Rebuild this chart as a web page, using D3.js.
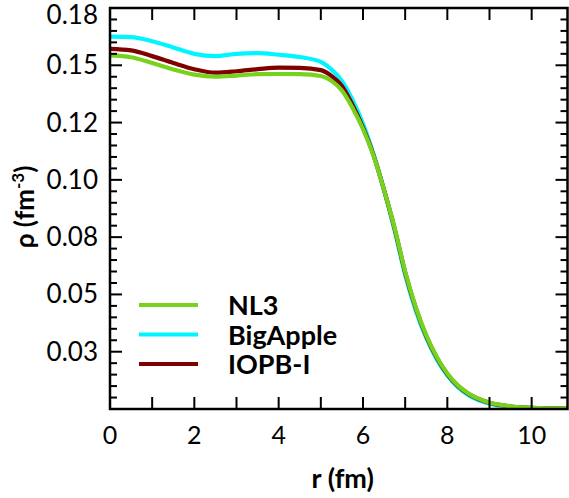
<!DOCTYPE html>
<html>
<head>
<meta charset="utf-8">
<script src="https://cdn.jsdelivr.net/npm/d3@7"></script>
<style>
  body { margin: 0; background: #fff; }
  svg { display: block; font-family: Lato, sans-serif; }
</style>
</head>
<body>
<div id="chart"></div>
<script>
// radius grid (fm)
const r = [0, 0.5, 1, 1.5, 2, 2.5, 3, 3.5, 4, 4.5, 5, 5.25, 5.5, 5.75, 6, 6.25, 6.5, 6.75, 7, 7.25, 7.5, 7.75, 8, 8.25, 8.5, 9, 9.5, 10, 10.85]

const nl3 = [0.1543, 0.1535, 0.1510, 0.1482, 0.1459, 0.1450, 0.1455, 0.1461, 0.1462, 0.1461, 0.1453, 0.1432, 0.1390, 0.1315,
             0.1222, 0.1105, 0.0955, 0.0790, 0.0600, 0.0445, 0.0322, 0.0227, 0.0155, 0.0103, 0.0068, 0.0028, 0.0012, 0.0005, 0.0002]
const bigapple = [0.1625, 0.1623, 0.1605, 0.1578, 0.1550, 0.1540, 0.1550, 0.1553, 0.1546, 0.1536, 0.1515, 0.1482, 0.1432, 0.1350,
                  0.1245, 0.1112, 0.0955, 0.0778, 0.0585, 0.0430, 0.0310, 0.0216, 0.0146, 0.0095, 0.0060, 0.0023, 0.0009, 0.0004, 0.0001]
const iopb = [0.1572, 0.1565, 0.1540, 0.1510, 0.1483, 0.1468, 0.1474, 0.1483, 0.1490, 0.1489, 0.1479, 0.1454, 0.1410, 0.1328,
              0.1228, 0.1108, 0.0955, 0.0787, 0.0596, 0.0441, 0.0318, 0.0224, 0.0152, 0.0101, 0.0066, 0.0027, 0.0011, 0.0005, 0.0002]

const xTicks = [0, 2, 4, 6, 8, 10]
const yTicks = [0.025, 0.05, 0.075, 0.1, 0.125, 0.15, 0.175]
const yTickLabels = ["0.03", "0.05", "0.08", "0.10", "0.12", "0.15", "0.18"]

const series = [
    {name: "BigApple", values: bigapple, color: "#00f5ff"},
    {name: "IOPB-I", values: iopb, color: "#800000"},
    {name: "NL3", values: nl3, color: "#76d21d"}
]
const legendOrder = ["NL3", "BigApple", "IOPB-I"]

let W = 569, H = 498
let margin = {top: 8, right: 1.5, bottom: 89, left: 110}
let width = W - margin.left - margin.right,
    height = H - margin.top - margin.bottom

let svg = d3.select("#chart").append("svg")
    .attr("width", W).attr("height", H)

let g = svg.append("g")
    .attr("transform", "translate(" + margin.left + "," + margin.top + ")")

let x = d3.scaleLinear().domain([0, 10.85]).range([0, width])
let y = d3.scaleLinear().domain([0, 0.175]).range([height, 0])

// clip for curves
svg.append("defs").append("clipPath").attr("id", "clip")
    .append("rect").attr("width", width).attr("height", height)

let line = d3.line()
    .x((d, i) => x(r[i]))
    .y(d => y(d))
    .curve(d3.curveMonotoneX)

g.append("g").attr("clip-path", "url(#clip)")
    .selectAll("path")
    .data(series)
    .enter()
    .append("path")
        .attr("d", d => line(d.values))
        .attr("fill", "none")
        .attr("stroke", d => d.color)
        .attr("stroke-width", 4.2)

// ticks: inward, on all four sides
let yMinor = d3.range(0.005, 0.1751, 0.005)
let xMinor = d3.range(1, 11, 1)

let tickStyle = sel => sel.attr("stroke", "#000").attr("stroke-width", 2)

g.selectAll(".xt-b").data(xMinor).enter().append("line")
    .attr("x1", d => x(d)).attr("x2", d => x(d))
    .attr("y1", height).attr("y2", height - 12).call(tickStyle)
g.selectAll(".xt-t").data(xMinor).enter().append("line")
    .attr("x1", d => x(d)).attr("x2", d => x(d))
    .attr("y1", 0).attr("y2", 12).call(tickStyle)

let isMajor = d => Math.abs(d / 0.025 - Math.round(d / 0.025)) < 1e-6
g.selectAll(".yt-l").data(yMinor).enter().append("line")
    .attr("x1", 0).attr("x2", d => isMajor(d) ? 12 : 7)
    .attr("y1", d => y(d)).attr("y2", d => y(d)).call(tickStyle)
g.selectAll(".yt-r").data(yMinor).enter().append("line")
    .attr("x1", width).attr("x2", d => width - (isMajor(d) ? 12 : 7))
    .attr("y1", d => y(d)).attr("y2", d => y(d)).call(tickStyle)

// frame
g.append("rect")
    .attr("width", width).attr("height", height)
    .attr("fill", "none").attr("stroke", "#000").attr("stroke-width", 2.5)

// tick labels
g.selectAll(".xl").data(xTicks).enter().append("text")
    .attr("x", d => x(d)).attr("y", height + 35)
    .attr("text-anchor", "middle")
    .attr("font-size", 25)
    .text(d => d)

// top label sits a bit lower so it is not cut at the edge
g.selectAll(".yl").data(yTicks).enter().append("text")
    .attr("x", -12).attr("y", d => Math.max(y(d) + 9, 16))
    .attr("text-anchor", "end")
    .attr("font-size", 26)
    .text((d, i) => yTickLabels[i])

// axis titles
g.append("text")
    .attr("x", width / 2 + 4).attr("y", height + 79)
    .attr("text-anchor", "middle")
    .attr("font-size", 27).attr("font-weight", "bold")
    .text("r (fm)")

let yt = svg.append("text")
    .attr("transform", "translate(34,207) rotate(-90)")
    .attr("text-anchor", "middle")
    .attr("font-size", 26).attr("font-weight", "bold")
yt.append("tspan").text("ρ (fm")
yt.append("tspan").attr("dy", -10).attr("font-size", 17).text("-3")
yt.append("tspan").attr("dy", 10).text(")")

// legend
let legend = g.selectAll(".legend")
    .data(legendOrder.map(n => series.find(s => s.name == n)))
    .enter().append("g")
    .attr("transform", (d, i) => "translate(0," + (297 + i * 29.5) + ")")

legend.append("line")
    .attr("x1", 29).attr("x2", 88)
    .attr("stroke", d => d.color).attr("stroke-width", 4.2)

legend.append("text")
    .attr("x", 118).attr("y", 10)
    .attr("font-size", 27).attr("font-weight", "bold")
    .text(d => d.name)
</script>
</body>
</html>
